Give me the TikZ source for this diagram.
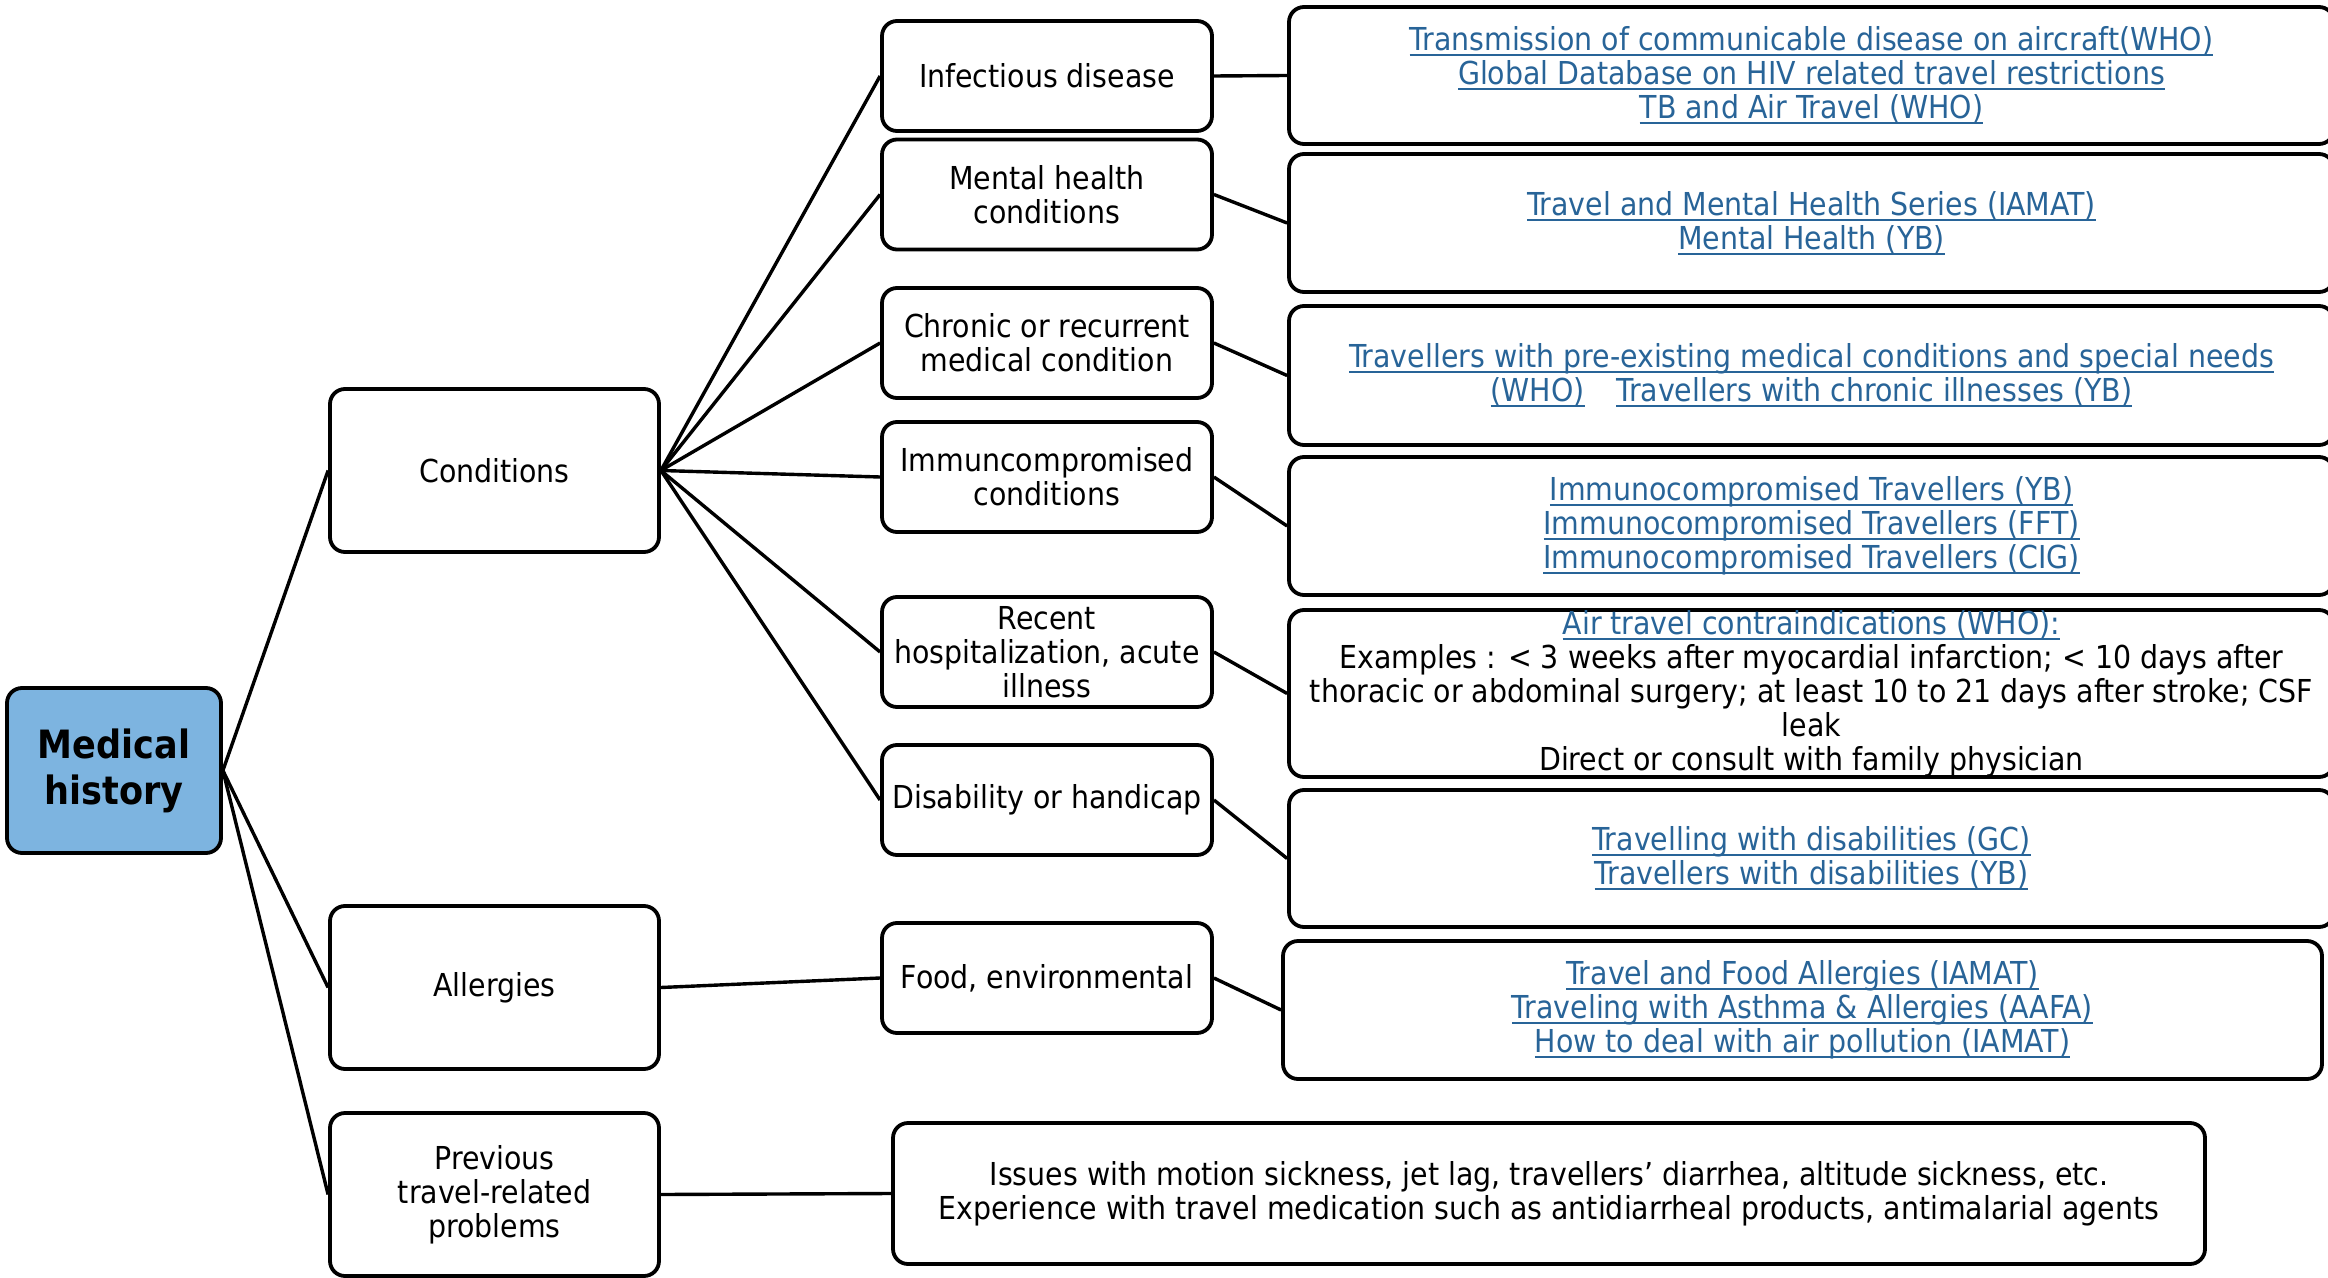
\documentclass[tikz,border=0pt]{standalone}
\usepackage{fontspec}
\setmainfont{DejaVu Sans Condensed}
\definecolor{linkblue}{RGB}{40,100,152}
\definecolor{rootblue}{RGB}{125,180,224}
% underlined hyperlink-style text, rule at a fixed depth below the baseline
\newcommand\lnk[1]{{\color{linkblue}\setbox0=\hbox{#1}%
  \rlap{\rule[-0.17em]{\wd0}{0.065em}}\box0}}
\begin{document}
\begin{tikzpicture}[x=0.5pt,y=-0.5pt,
  box/.style={draw=black, line width=1.9pt, rounded corners=7.5pt, inner sep=0pt,
    align=center, font=\fontsize{15.8}{17}\selectfont},
  rootbox/.style={box, fill=rootblue, minimum width=107pt, minimum height=82.5pt,
    font=\bfseries\fontsize{19.5}{23}\selectfont},
  midbox/.style={box, minimum width=164.5pt, minimum height=81.5pt},
  subbox/.style={box, minimum width=165pt, minimum height=55pt},
  infobox/.style={box, minimum width=522.5pt},
  conn/.style={draw=black, line width=1.7pt}
]
\useasboundingbox (0,0) rectangle (2328,1278);

% root
\node[rootbox] (med) at (114,770.5) {Medical\\history};

% first level
\node[midbox] (cond) at (494.5,470.5) {Conditions};
\node[midbox] (allg) at (494.5,987.5) {Allergies};
\node[midbox] (prev) at (494.5,1194.5) {Previous\\travel-related\\problems};

% second level
\node[subbox] (inf)   at (1047,76)    {Infectious disease};
\node[subbox] (ment)  at (1047,194.5) {Mental health\\conditions};
\node[subbox] (chron) at (1047,343)   {Chronic or recurrent\\medical condition};
\node[subbox] (imm)   at (1047,477)   {Immuncompromised\\conditions};
\node[subbox] (rec)   at (1047,652)   {Recent\\hospitalization, acute\\illness};
\node[subbox] (dis)   at (1047,800)   {Disability or handicap};
\node[subbox] (food)  at (1047,978)   {Food, environmental};

% resources
\node[infobox, minimum height=68.5pt] (r1) at (1811.5,75.5)
  {\lnk{Transmission of communicable disease on aircraft(WHO)}\\
   \lnk{Global Database on HIV related travel restrictions}\\
   \lnk{TB and Air Travel (WHO)}};
\node[infobox, minimum height=69pt] (r2) at (1811.5,223)
  {\lnk{Travel and Mental Health Series (IAMAT)}\\
   \lnk{Mental Health (YB)}};
\node[infobox, minimum height=69.5pt] (r3) at (1811.5,375.5)
  {\lnk{Travellers with pre-existing medical conditions and special needs}\\
   \lnk{(WHO)}\quad\lnk{Travellers with chronic illnesses (YB)}};
\node[infobox, minimum height=69pt] (r4) at (1811.5,526)
  {\lnk{Immunocompromised Travellers (YB)}\\
   \lnk{Immunocompromised Travellers (FFT)}\\
   \lnk{Immunocompromised Travellers (CIG)}};
\node[infobox, minimum height=83.5pt] (r5) at (1811.5,693.5)
  {\lnk{Air travel contraindications (WHO):}\\
   Examples : < 3 weeks after myocardial infarction; < 10 days after\\
   thoracic or abdominal surgery; at least 10 to 21 days after stroke; CSF\\
   leak\\
   Direct or consult with family physician};
\node[infobox, minimum height=68.5pt] (r6) at (1811.5,858.5)
  {\lnk{Travelling with disabilities (GC)}\\
   \lnk{Travellers with disabilities (YB)}};
\node[box, minimum width=519.5pt, minimum height=69pt] (r7) at (1802.5,1010)
  {\lnk{Travel and Food Allergies (IAMAT)}\\
   \lnk{Traveling with Asthma \& Allergies (AAFA)}\\
   \lnk{How to deal with air pollution (IAMAT)}};
\node[box, minimum width=656pt, minimum height=70.5pt] (r8) at (1549,1193.5)
  {Issues with motion sickness, jet lag, travellers’ diarrhea, altitude sickness, etc.\\
   Experience with travel medication such as antidiarrheal products, antimalarial agents};

% connectors
\draw[conn] (med.east) -- (cond.west);
\draw[conn] (med.east) -- (allg.west);
\draw[conn] (med.east) -- (prev.west);
\foreach \n in {inf,ment,chron,imm,rec,dis}
  \draw[conn] (cond.east) -- (\n.west);
\draw[conn] (allg.east) -- (food.west);
\draw[conn] (prev.east) -- (r8.west);
\draw[conn] (inf.east) -- (r1.west);
\draw[conn] (ment.east) -- (r2.west);
\draw[conn] (chron.east) -- (r3.west);
\draw[conn] (imm.east) -- (r4.west);
\draw[conn] (rec.east) -- (r5.west);
\draw[conn] (dis.east) -- (r6.west);
\draw[conn] (food.east) -- (r7.west);
\end{tikzpicture}
\end{document}
